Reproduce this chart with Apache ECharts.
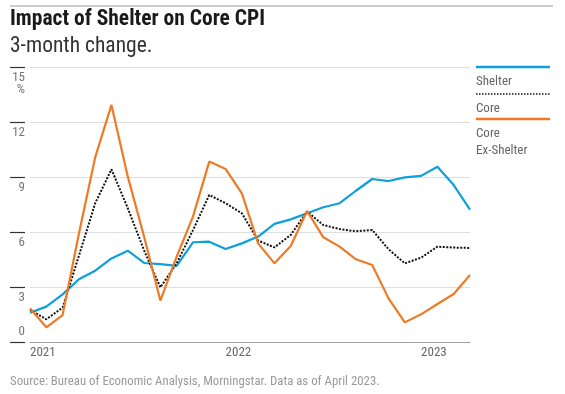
<!DOCTYPE html>
<html><head><meta charset="utf-8">
<script src="https://cdn.jsdelivr.net/npm/echarts@6/dist/echarts.min.js"></script>
<style>html,body{margin:0;padding:0;background:#fff}#c{width:565px;height:394px}</style>
</head><body><div id="c"></div>
<script>
const months = ['2021-01','2021-02','2021-03','2021-04','2021-05','2021-06','2021-07','2021-08','2021-09','2021-10','2021-11','2021-12',
 '2022-01','2022-02','2022-03','2022-04','2022-05','2022-06','2022-07','2022-08','2022-09','2022-10','2022-11','2022-12',
 '2023-01','2023-02','2023-03','2023-04'];
const shelter = [1.6,1.93,2.6,3.42,3.89,4.56,4.98,4.31,4.25,4.15,5.44,5.47,5.07,5.38,5.75,6.44,6.69,7.02,7.35,7.57,8.25,8.89,8.78,8.98,9.06,9.56,8.56,7.22];
const core = [1.75,1.24,1.87,4.7,7.57,9.42,7.3,5.0,2.98,4.29,6.1,8.02,7.57,7.02,5.53,5.16,5.84,7.11,6.38,6.16,6.04,6.11,5.06,4.29,4.6,5.2,5.15,5.13];
const coreExShelter = [1.84,0.8,1.47,5.9,10.07,12.93,9.02,5.75,2.26,4.66,6.84,9.84,9.44,8.11,5.38,4.29,5.24,7.15,5.71,5.2,4.51,4.2,2.38,1.07,1.51,2.07,2.62,3.65];
const yTicks = [0,3,6,9,12,15];
const seriesNames = ['Shelter','Core','Core\nEx-Shelter'];
const titleText = 'Impact of Shelter on Core CPI';
const subtitleText = '3-month change.';
const sourceText = 'Source: Bureau of Economic Analysis, Morningstar. Data as of April 2023.';

const FONT = "'Liberation Sans Narrow','Roboto Condensed','DejaVu Sans Condensed',Roboto,sans-serif";
const BLUE = '#0ea0da', ORANGE = '#ef7a24', BLACK = '#111';
const chart = echarts.init(document.getElementById('c'), null, {renderer:'canvas'});
const yMin = yTicks[0], yMax = yTicks[yTicks.length-1], yInt = yTicks[1]-yTicks[0];
const legendColors = [BLUE, BLACK, ORANGE];
const legendTypes = ['solid','dotted','solid'];
const legendY = [67, 94, 119];
const graphics = [
  {type:'line', shape:{x1:10,y1:6,x2:553,y2:6}, style:{stroke:'#bdbdbd',lineWidth:1.5}},
  {type:'text', left:10, top:9, style:{text:titleText, font:"bold 21.5px "+FONT, fill:'#1a1a1a'}},
  {type:'text', left:10, top:36, style:{text:subtitleText, font:"21.5px "+FONT, fill:'#333'}},
  {type:'text', left:10, top:375, style:{text:sourceText, font:"12.8px "+FONT, fill:'#9a9a9a'}}
];
seriesNames.forEach((n,i)=>{
  graphics.push({type:'line', shape:{x1:476,y1:legendY[i],x2:550,y2:legendY[i]},
    style:{stroke:legendColors[i], lineWidth: i===1?1.5:2.5, lineDash: legendTypes[i]==='dotted'?[1.5,1.5]:null}});
  graphics.push({type:'text', left:476, top:legendY[i]+6, style:{text:n, font:"13px "+FONT, fill:'#666', lineHeight:17}});
});
const axisCommon = {type:'value', min:yMin, max:yMax, interval:yInt, offset:5,
  axisLine:{show:false}, axisTick:{show:true, length:15, lineStyle:{color:'#333', width:1.2}}};
chart.setOption({
  animation:false,
  grid:{left:30, right:95, top:67, bottom:52},
  graphic: graphics,
  xAxis:{type:'category', data:months, boundaryGap:false,
    axisLine:{lineStyle:{color:'#9e9e9e', width:1.2}}, axisTick:{show:false},
    axisLabel:{interval:(idx)=>idx%12===0, formatter:(v)=>v.slice(0,4), align:'left', margin:4,
      color:'#666', fontFamily:FONT, fontSize:13}},
  yAxis:[
    Object.assign({}, axisCommon, {
      splitLine:{lineStyle:{color:'#dedede', width:1.2}},
      axisLabel:{margin:0, verticalAlign:'top', color:'#777', fontFamily:FONT, fontSize:13, lineHeight:12,
        formatter:(v)=> v===0 ? '' : (v===yMax ? v+'\n%' : String(v)), padding:[5,0,0,0]}}),
    Object.assign({}, axisCommon, {position:'left', axisTick:{show:false}, splitLine:{show:false},
      axisLabel:{margin:0, verticalAlign:'bottom', color:'#777', fontFamily:FONT, fontSize:13,
        formatter:(v)=> v===0 ? '0' : '', padding:[0,0,4,0]}})
  ],
  series:[
    {name:'Shelter', type:'line', data:shelter, symbol:'none', lineStyle:{color:BLUE, width:2.2}, z:3},
    {name:'Core', type:'line', data:core, symbol:'none', lineStyle:{color:BLACK, width:2, type:[2,1.5]}, z:4},
    {name:'Core Ex-Shelter', type:'line', data:coreExShelter, symbol:'none', lineStyle:{color:ORANGE, width:2.2}, z:5}
  ]
});
</script></body></html>
